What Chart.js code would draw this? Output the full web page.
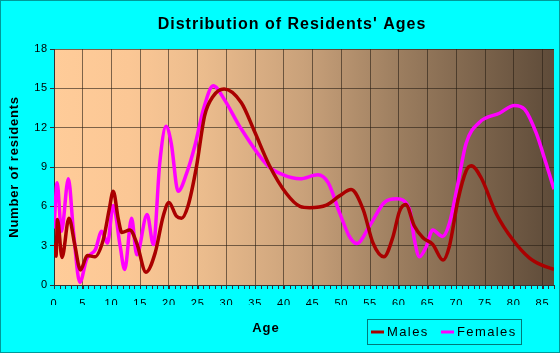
<!DOCTYPE html>
<html>
<head>
<meta charset="utf-8">
<title>Distribution of Residents' Ages</title>
<script src="https://cdn.jsdelivr.net/npm/chart.js@4.4.1/dist/chart.umd.min.js"></script>
<style>
  html, body { margin: 0; padding: 0; background: #00ffff; }
  canvas { display: block; }
</style>
</head>
<body>
<canvas id="ages" width="560" height="353"></canvas>
<script>
(() => {
  "use strict";

  // tick labels
  const AGE_TICKS = [0, 5, 10, 15, 20, 25, 30, 35, 40, 45, 50, 55, 60, 65, 70, 75, 80, 85];
  const COUNT_TICKS = [0, 3, 6, 9, 12, 15, 18];
  const AGE_MAX = 87;

  // series (age, number of residents)
  const maleAges = [0, 0.35, 0.6, 1.4, 2.6, 3.6, 4.6, 5.8, 7.1, 8.6, 9.6, 10.3, 11.2, 11.8, 13.2, 14.4, 16.0, 17.6, 19.0, 20.0, 21.3, 22.2, 23.3, 24.8, 26.2, 27.7, 29.6, 32.6, 34.8, 37.5, 40.4, 42.8, 44.5, 47.4, 49.7, 51.7, 53.8, 55.5, 57.4, 59.0, 60.1, 61.2, 62.7, 64.2, 65.9, 67.7, 68.8, 70.3, 71.7, 72.6, 74.3, 77.0, 79.8, 82.7, 85.0, 87.0];
  const maleCounts = [3.2, 2.2, 5.0, 2.1, 5.1, 3.1, 1.15, 2.25, 2.15, 3.5, 5.75, 7.15, 5.0, 4.0, 4.2, 3.2, 0.98, 2.45, 5.25, 6.3, 5.25, 5.1, 6.0, 9.05, 12.9, 14.4, 14.95, 13.9, 11.8, 9.1, 7.0, 6.0, 5.9, 6.1, 6.8, 7.28, 5.75, 3.2, 2.15, 3.7, 5.6, 6.14, 4.5, 3.6, 3.1, 1.9, 2.96, 6.5, 8.7, 9.1, 8.2, 5.4, 3.47, 2.07, 1.49, 1.2];

  const femaleAges = [0, 0.55, 1.3, 2.5, 3.4, 4.5, 5.7, 7.2, 8.3, 9.3, 10.3, 11.5, 12.3, 13.5, 14.4, 16.2, 17.3, 18.4, 19.5, 20.4, 21.6, 23.1, 24.5, 26.0, 27.7, 29.7, 32.3, 37.2, 39.9, 42.8, 45.9, 47.7, 49.7, 51.4, 52.7, 54.9, 57.5, 59.6, 61.9, 62.7, 63.6, 64.8, 65.9, 67.6, 68.8, 70.3, 71.7, 74.0, 77.5, 80.1, 81.9, 83.9, 85.6, 87.0];
  const femaleCounts = [4.3, 7.8, 4.1, 8.1, 4.0, 0.2, 2.0, 2.7, 4.1, 3.2, 6.06, 3.0, 1.18, 5.1, 2.3, 5.37, 3.08, 9.3, 12.1, 10.8, 7.15, 8.55, 10.6, 13.4, 15.2, 14.1, 12.1, 9.1, 8.4, 8.1, 8.4, 7.8, 5.5, 3.7, 3.16, 4.5, 6.3, 6.57, 5.75, 3.47, 2.15, 2.96, 4.2, 3.7, 4.7, 7.8, 10.8, 12.4, 13.1, 13.7, 13.4, 11.6, 9.3, 7.3];

  const FONT = '"Liberation Sans", Arial, sans-serif';
  const GRID = "rgba(40, 30, 20, 0.6)";
  const AXIS = "#333333";
  const PLOT_STOPS = [
    [0, "#ffcc99"],
    [0.15, "#fbc795"],
    [0.3, "#ebbc8d"],
    [0.5, "#c9a17a"],
    [0.7, "#9a7c5e"],
    [1, "#5e4b39"]
  ];

  function points(xs, ys) {
    return xs.map((x, i) => ({ x, y: ys[i] }));
  }

  const plotBackground = {
    id: "plotBackground",
    beforeUpdate(chart) {
      chart.ctx.letterSpacing = "0.8px";
    },
    beforeDraw(chart) {
      const { ctx, chartArea: a } = chart;
      const g = ctx.createLinearGradient(a.left, 0, a.right, 0);
      PLOT_STOPS.forEach(([p, c]) => g.addColorStop(p, c));
      ctx.save();
      ctx.fillStyle = g;
      ctx.fillRect(a.left, a.top, a.right - a.left, a.bottom - a.top);
      ctx.restore();
      ctx.letterSpacing = "0.8px";
    }
  };

  // one small tick per year under the age axis
  const minorTicks = {
    id: "minorTicks",
    afterDraw(chart) {
      const { ctx, chartArea: a } = chart;
      const x = chart.scales.x;
      ctx.save();
      ctx.strokeStyle = AXIS;
      ctx.lineWidth = 1;
      ctx.beginPath();
      for (let age = 0; age <= AGE_MAX; age++) {
        const px = Math.round(x.getPixelForValue(age)) + 0.5;
        ctx.moveTo(px, a.bottom);
        ctx.lineTo(px, a.bottom + 4);
      }
      ctx.stroke();
      ctx.restore();
    }
  };

  const pageText = {
    id: "pageText",
    afterDraw(chart, args, opts) {
      const ctx = chart.ctx;
      ctx.save();
      ctx.fillStyle = "#000";
      ctx.textBaseline = "middle";
      ctx.textAlign = "center";

      ctx.letterSpacing = "1px";
      ctx.font = `bold 16px ${FONT}`;
      ctx.fillText(opts.title, 292, 25);

      ctx.font = `bold 13px ${FONT}`;
      ctx.fillText(opts.xTitle, 266, 328);

      // legend box
      ctx.strokeStyle = "#007a7a";
      ctx.lineWidth = 1;
      ctx.strokeRect(367.5, 319.5, 154, 25);

      ctx.font = `13px ${FONT}`;
      ctx.letterSpacing = "1.4px";
      ctx.textAlign = "left";
      chart.data.datasets.forEach((ds, i) => {
        const x = opts.legendX[i];
        ctx.strokeStyle = ds.borderColor;
        ctx.lineWidth = 3;
        ctx.beginPath();
        ctx.moveTo(x, 332);
        ctx.lineTo(x + 13, 332);
        ctx.stroke();
        ctx.fillText(ds.label, x + 16, 332.5);
      });

      // outer border
      ctx.strokeStyle = "#009999";
      ctx.lineWidth = 1;
      ctx.strokeRect(0.5, 0.5, 559, 352);
      ctx.restore();
    }
  };

  Chart.defaults.font.family = FONT;
  Chart.defaults.color = "#000";

  new Chart(document.getElementById("ages"), {
    type: "scatter",
    data: {
      datasets: [
        {
          label: "Males",
          data: points(maleAges, maleCounts),
          showLine: true,
          borderColor: "#aa0000",
          borderWidth: 3.5,
          pointRadius: 0,
          cubicInterpolationMode: "monotone"
        },
        {
          label: "Females",
          data: points(femaleAges, femaleCounts),
          showLine: true,
          borderColor: "#ff00ff",
          borderWidth: 3.5,
          pointRadius: 0,
          cubicInterpolationMode: "monotone"
        }
      ]
    },
    options: {
      responsive: false,
      animation: false,
      layout: { padding: { left: 0, top: 49, right: 6, bottom: 48 } },
      plugins: {
        legend: { display: false },
        tooltip: { enabled: false },
        pageText: {
          title: "Distribution of Residents' Ages",
          xTitle: "Age",
          legendX: [371, 441]
        }
      },
      scales: {
        x: {
          type: "linear",
          min: 0,
          max: AGE_MAX,
          afterFit(s) { s.height = 20; },
          afterBuildTicks(s) {
            s.ticks = AGE_TICKS.map(v => ({ value: v }));
          },
          grid: { color: GRID, tickColor: AXIS, tickLength: 4 },
          border: { color: AXIS },
          ticks: {
            autoSkip: false,
            maxRotation: 0,
            padding: 8,
            font: { size: 11 }
          }
        },
        y: {
          min: 0,
          max: 18,
          afterFit(s) { s.width = 54; },
          afterBuildTicks(s) {
            s.ticks = COUNT_TICKS.map(v => ({ value: v }));
          },
          grid: { color: GRID, tickColor: AXIS, tickLength: 4 },
          border: { color: AXIS },
          ticks: { padding: 2, font: { size: 11 } },
          title: {
            display: true,
            text: "Number of residents",
            font: { size: 13, weight: "bold" },
            padding: { top: 7, bottom: 0 }
          }
        }
      }
    },
    plugins: [plotBackground, minorTicks, pageText]
  });
})();
</script>
</body>
</html>
